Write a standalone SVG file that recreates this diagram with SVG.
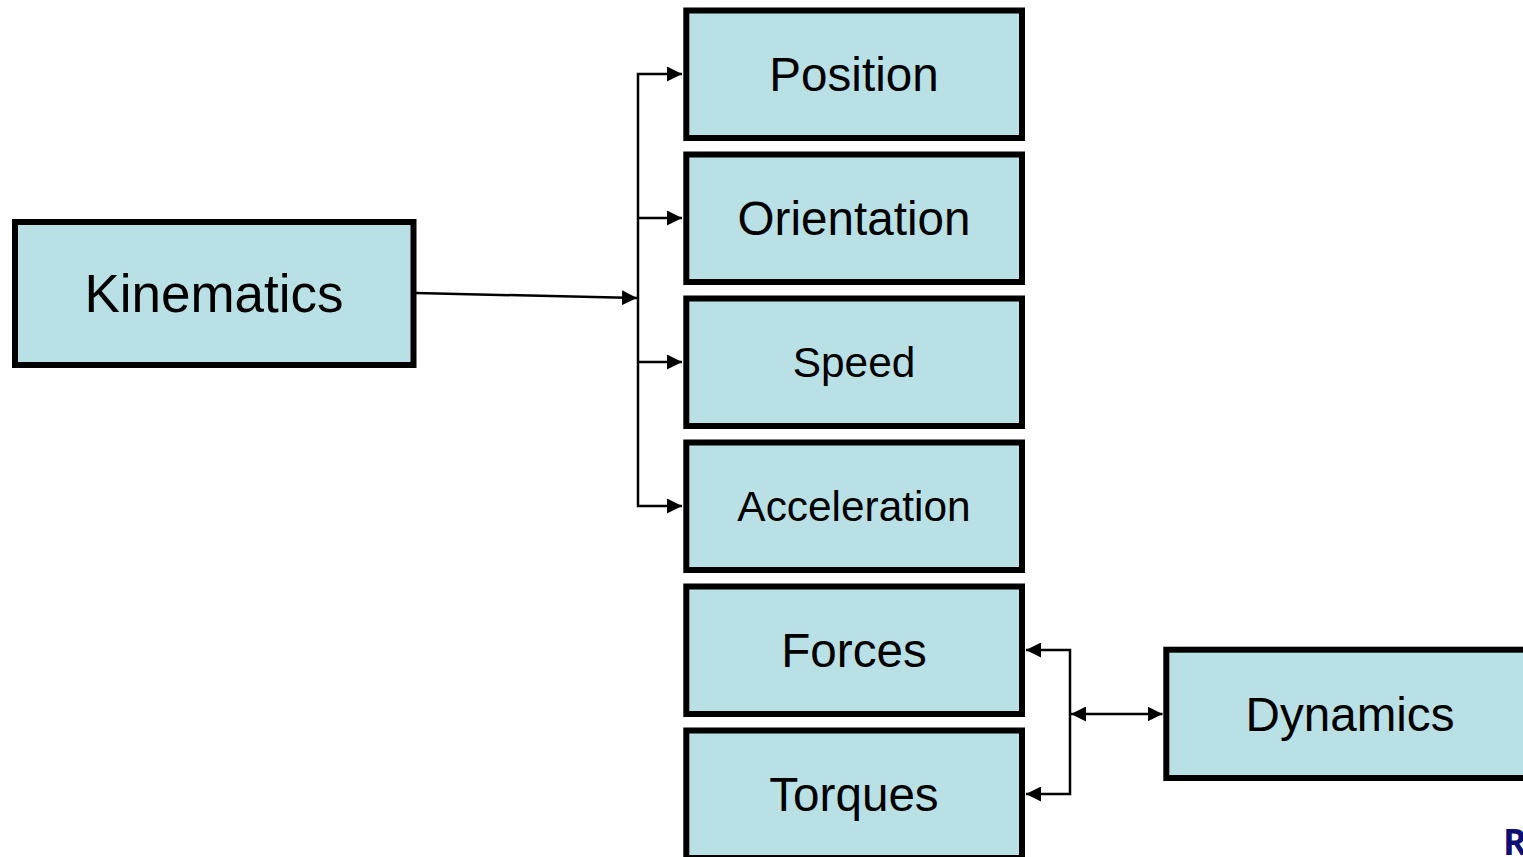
<svg xmlns="http://www.w3.org/2000/svg" width="1523" height="857" viewBox="0 0 1523 857">
  <style>
    .box { fill: #b9e0e4; stroke: #000; stroke-width: 6; }
    .lbl { font-family: "Liberation Sans", Arial, sans-serif; fill: #000; text-anchor: middle; }
    .big { font-size: 47.6px; }
    .mid { font-size: 42.4px; }
    .wire { fill: none; stroke: #000; stroke-width: 2.5; }
  </style>
  <defs>
    <marker id="head" viewBox="0 0 15 15" refX="15" refY="7.5" markerWidth="15" markerHeight="15" markerUnits="userSpaceOnUse" orient="auto-start-reverse">
      <path d="M0,0 L15,7.5 L0,15 Z" fill="#000"/>
    </marker>
  </defs>
  <rect width="1523" height="857" fill="#fff"/>

  <g id="kinematics">
    <rect class="box" x="15" y="222" width="398.5" height="143"/>
    <text class="lbl" x="214" y="312" font-size="53">Kinematics</text>
  </g>

  <g id="position">
    <rect class="box" x="686.3" y="10.5" width="335.7" height="127.5"/>
    <text class="lbl big" x="854" y="91">Position</text>
  </g>
  <g id="orientation">
    <rect class="box" x="686.3" y="154.5" width="335.7" height="127.5"/>
    <text class="lbl big" x="854" y="235">Orientation</text>
  </g>
  <g id="speed">
    <rect class="box" x="686.3" y="298.5" width="335.7" height="127.5"/>
    <text class="lbl mid" x="854" y="377">Speed</text>
  </g>
  <g id="acceleration">
    <rect class="box" x="686.3" y="442.5" width="335.7" height="127.5"/>
    <text class="lbl mid" x="854" y="521">Acceleration</text>
  </g>
  <g id="forces">
    <rect class="box" x="686.3" y="586.5" width="335.7" height="127.5"/>
    <text class="lbl big" x="854" y="667">Forces</text>
  </g>
  <g id="torques">
    <rect class="box" x="686.3" y="730.5" width="335.7" height="127.5"/>
    <text class="lbl big" x="854" y="811">Torques</text>
  </g>

  <g id="dynamics">
    <rect class="box" x="1166.3" y="649.7" width="400" height="128.3"/>
    <text class="lbl big" x="1350" y="731">Dynamics</text>
  </g>

  <g id="connectors">
    <!-- Kinematics into the branch bus -->
    <line class="wire" x1="416" y1="293" x2="637" y2="298" marker-end="url(#head)"/>
    <!-- bus fanning out to the four kinematic quantities -->
    <path class="wire" d="M682,74 H638 V506 H682" marker-start="url(#head)" marker-end="url(#head)"/>
    <line class="wire" x1="638" y1="218" x2="682" y2="218" marker-end="url(#head)"/>
    <line class="wire" x1="638" y1="362" x2="682" y2="362" marker-end="url(#head)"/>
    <!-- Dynamics bus to forces and torques -->
    <path class="wire" d="M1026,650 H1070 V794 H1026" marker-start="url(#head)" marker-end="url(#head)"/>
    <line class="wire" x1="1071" y1="714" x2="1162.5" y2="714" marker-start="url(#head)" marker-end="url(#head)"/>
  </g>

  <text x="1503" y="855" font-family="'Open Sans', 'Liberation Sans', sans-serif" font-weight="bold" font-size="36" fill="#0d0d73">R</text>
</svg>
